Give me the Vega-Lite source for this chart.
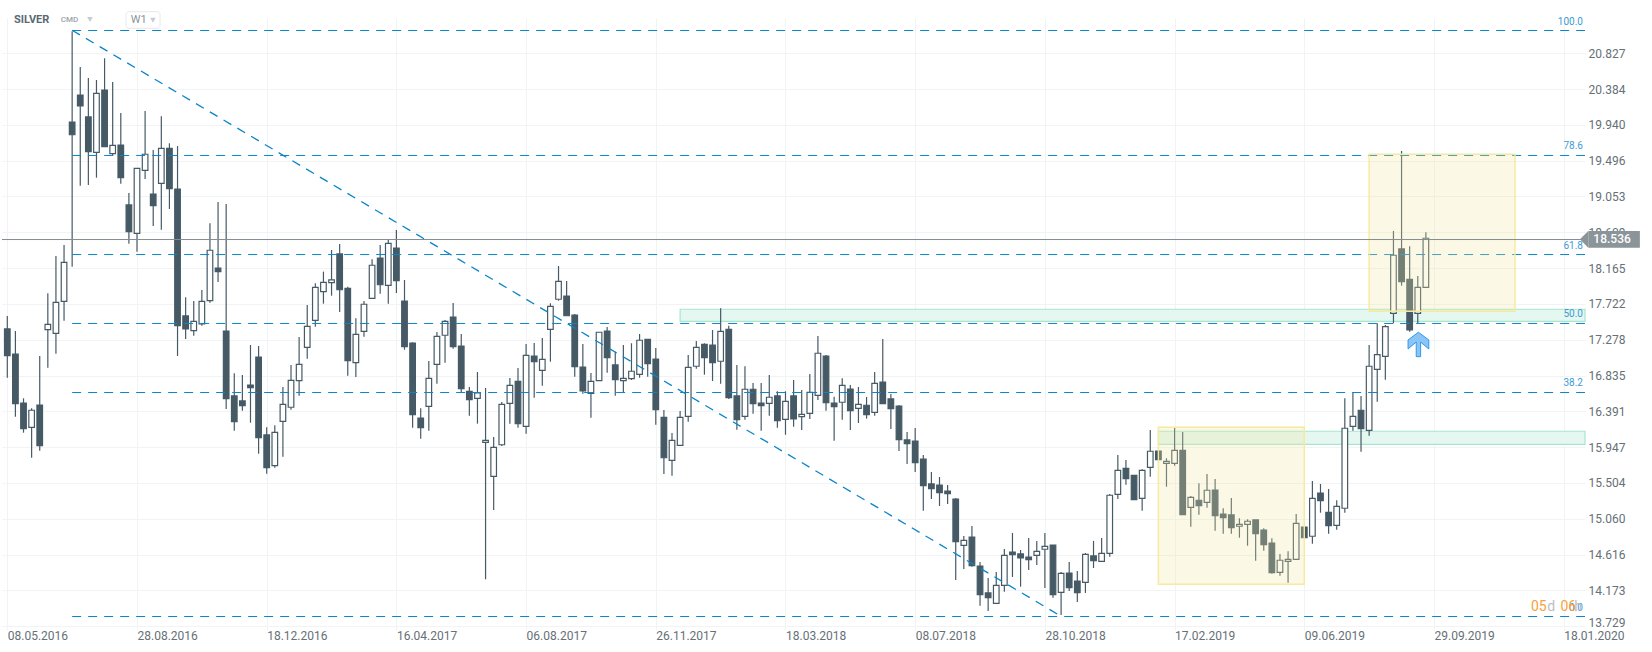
{"$schema":"https://vega.github.io/schema/vega-lite/v6.json","width":1583,"height":612,"autosize":{"type":"none"},"padding":{"left":2,"top":18,"right":67,"bottom":22},"background":"#ffffff","config":{"view":{"stroke":null},"font":"Roboto"},
"datasets":{"candles":[
{"i":0,"o":17.412,"h":17.573,"l":16.808,"c":17.081},{"i":1,"o":17.102,"h":17.387,"l":16.325,"c":16.486},{"i":2,"o":16.495,"h":16.553,"l":16.127,"c":16.177},{"i":3,"o":16.194,"h":16.429,"l":15.817,"c":16.405},{"i":4,"o":16.470,"h":17.077,"l":15.904,"c":15.966},{"i":5,"o":17.403,"h":17.854,"l":16.932,"c":17.470},{"i":6,"o":17.358,"h":18.316,"l":17.106,"c":17.742},{"i":7,"o":17.755,"h":18.452,"l":17.514,"c":18.238},{"i":8,"o":19.976,"h":21.100,"l":18.183,"c":19.818},{"i":9,"o":20.310,"h":20.657,"l":19.187,"c":20.174},
{"i":10,"o":20.038,"h":20.521,"l":19.195,"c":19.608},{"i":11,"o":19.600,"h":20.496,"l":19.286,"c":20.331},{"i":12,"o":20.372,"h":20.765,"l":19.670,"c":19.670},{"i":13,"o":19.583,"h":20.471,"l":19.558,"c":19.687},{"i":14,"o":19.691,"h":20.087,"l":19.211,"c":19.286},{"i":15,"o":18.948,"h":19.096,"l":18.468,"c":18.617},{"i":16,"o":18.597,"h":19.402,"l":18.369,"c":19.402},{"i":17,"o":19.377,"h":20.112,"l":19.270,"c":19.576},{"i":18,"o":19.084,"h":19.629,"l":18.688,"c":18.939},{"i":19,"o":19.216,"h":20.046,"l":18.642,"c":19.650},
{"i":20,"o":19.650,"h":19.712,"l":18.898,"c":19.150},{"i":21,"o":19.146,"h":19.678,"l":17.077,"c":17.453},{"i":22,"o":17.573,"h":17.804,"l":17.288,"c":17.412},{"i":23,"o":17.391,"h":17.758,"l":17.329,"c":17.507},{"i":24,"o":17.474,"h":17.895,"l":17.453,"c":17.755},{"i":25,"o":17.762,"h":18.721,"l":17.737,"c":18.387},{"i":26,"o":18.167,"h":18.985,"l":17.994,"c":18.122},{"i":27,"o":17.387,"h":18.960,"l":16.421,"c":16.548},{"i":28,"o":16.582,"h":16.863,"l":16.152,"c":16.263},{"i":29,"o":16.520,"h":16.842,"l":16.400,"c":16.462},
{"i":30,"o":16.718,"h":17.213,"l":16.251,"c":16.685},{"i":31,"o":17.065,"h":17.201,"l":15.867,"c":16.065},{"i":32,"o":16.099,"h":16.194,"l":15.619,"c":15.694},{"i":33,"o":15.718,"h":16.219,"l":15.694,"c":16.132},{"i":34,"o":16.268,"h":16.693,"l":15.830,"c":16.479},{"i":35,"o":16.442,"h":16.966,"l":16.412,"c":16.776},{"i":36,"o":16.771,"h":17.313,"l":16.585,"c":16.974},{"i":37,"o":17.185,"h":17.709,"l":17.044,"c":17.445},{"i":38,"o":17.519,"h":17.978,"l":17.440,"c":17.928},{"i":39,"o":17.874,"h":18.122,"l":17.725,"c":17.990},
{"i":40,"o":17.985,"h":18.390,"l":17.824,"c":18.019},{"i":41,"o":18.341,"h":18.465,"l":17.622,"c":17.898},{"i":42,"o":17.916,"h":17.936,"l":16.833,"c":17.019},{"i":43,"o":16.994,"h":17.544,"l":16.817,"c":17.346},{"i":44,"o":17.383,"h":17.758,"l":17.316,"c":17.718},{"i":45,"o":17.792,"h":18.275,"l":17.792,"c":18.201},{"i":46,"o":18.291,"h":18.452,"l":17.849,"c":17.960},{"i":47,"o":17.953,"h":18.514,"l":17.725,"c":18.473},{"i":48,"o":18.415,"h":18.638,"l":17.858,"c":18.010},{"i":49,"o":17.758,"h":18.019,"l":17.155,"c":17.192},
{"i":50,"o":17.238,"h":17.247,"l":16.189,"c":16.350},{"i":51,"o":16.309,"h":16.429,"l":16.053,"c":16.189},{"i":52,"o":16.454,"h":17.015,"l":16.152,"c":16.801},{"i":53,"o":16.974,"h":17.375,"l":16.734,"c":17.321},{"i":54,"o":17.334,"h":17.523,"l":16.994,"c":17.507},{"i":55,"o":17.560,"h":17.734,"l":17.168,"c":17.192},{"i":56,"o":17.201,"h":17.350,"l":16.631,"c":16.672},{"i":57,"o":16.640,"h":16.693,"l":16.338,"c":16.536},{"i":58,"o":16.553,"h":16.879,"l":16.239,"c":16.619},{"i":59,"o":16.008,"h":16.681,"l":14.311,"c":16.033},
{"i":60,"o":15.587,"h":16.074,"l":15.170,"c":15.946},{"i":61,"o":15.978,"h":16.507,"l":15.962,"c":16.479},{"i":62,"o":16.491,"h":16.805,"l":16.239,"c":16.714},{"i":63,"o":16.764,"h":16.929,"l":16.189,"c":16.239},{"i":64,"o":16.206,"h":17.226,"l":16.115,"c":17.086},{"i":65,"o":17.077,"h":17.238,"l":16.561,"c":17.007},{"i":66,"o":16.900,"h":17.300,"l":16.709,"c":17.036},{"i":67,"o":17.408,"h":17.730,"l":17.007,"c":17.693},{"i":68,"o":17.780,"h":18.192,"l":17.762,"c":18.002},{"i":69,"o":17.820,"h":18.006,"l":17.576,"c":17.576},
{"i":70,"o":17.585,"h":17.597,"l":16.821,"c":16.945},{"i":71,"o":16.941,"h":17.226,"l":16.610,"c":16.644},{"i":72,"o":16.615,"h":16.867,"l":16.313,"c":16.764},{"i":73,"o":16.771,"h":17.371,"l":16.771,"c":17.371},{"i":74,"o":17.387,"h":17.436,"l":16.870,"c":17.056},{"i":75,"o":16.966,"h":17.130,"l":16.585,"c":16.784},{"i":76,"o":16.771,"h":17.213,"l":16.627,"c":16.801},{"i":77,"o":16.796,"h":17.235,"l":16.780,"c":16.888},{"i":78,"o":16.850,"h":17.350,"l":16.808,"c":17.272},{"i":79,"o":17.284,"h":17.284,"l":16.821,"c":16.982},
{"i":80,"o":17.040,"h":17.176,"l":16.226,"c":16.412},{"i":81,"o":16.318,"h":16.408,"l":15.616,"c":15.817},{"i":82,"o":15.785,"h":16.123,"l":15.594,"c":16.033},{"i":83,"o":15.971,"h":16.396,"l":15.971,"c":16.318},{"i":84,"o":16.330,"h":17.090,"l":16.263,"c":16.937},{"i":85,"o":16.950,"h":17.263,"l":16.920,"c":17.185},{"i":86,"o":17.222,"h":17.235,"l":16.846,"c":17.056},{"i":87,"o":17.213,"h":17.399,"l":16.767,"c":16.994},{"i":88,"o":17.012,"h":17.668,"l":16.734,"c":17.383},{"i":89,"o":17.408,"h":17.453,"l":16.545,"c":16.561},
{"i":90,"o":16.582,"h":16.966,"l":16.164,"c":16.288},{"i":91,"o":16.330,"h":16.950,"l":16.288,"c":16.665},{"i":92,"o":16.665,"h":16.743,"l":16.363,"c":16.486},{"i":93,"o":16.495,"h":16.743,"l":16.152,"c":16.462},{"i":94,"o":16.491,"h":16.842,"l":16.338,"c":16.566},{"i":95,"o":16.582,"h":16.640,"l":16.189,"c":16.276},{"i":96,"o":16.293,"h":16.640,"l":16.102,"c":16.516},{"i":97,"o":16.582,"h":16.780,"l":16.201,"c":16.297},{"i":98,"o":16.325,"h":16.656,"l":16.161,"c":16.355},{"i":99,"o":16.367,"h":16.854,"l":16.297,"c":16.627},
{"i":100,"o":16.590,"h":17.325,"l":16.532,"c":17.111},{"i":101,"o":17.077,"h":17.090,"l":16.400,"c":16.499},{"i":102,"o":16.495,"h":16.573,"l":16.028,"c":16.449},{"i":103,"o":16.504,"h":16.801,"l":16.288,"c":16.714},{"i":104,"o":16.668,"h":16.718,"l":16.161,"c":16.400},{"i":105,"o":16.429,"h":16.693,"l":16.247,"c":16.479},{"i":106,"o":16.467,"h":16.569,"l":16.301,"c":16.350},{"i":107,"o":16.380,"h":16.879,"l":16.338,"c":16.739},{"i":108,"o":16.755,"h":17.288,"l":16.486,"c":16.486},{"i":109,"o":16.545,"h":16.607,"l":16.173,"c":16.424},
{"i":110,"o":16.458,"h":16.470,"l":15.900,"c":16.040},{"i":111,"o":16.037,"h":16.136,"l":15.739,"c":15.991},{"i":112,"o":16.024,"h":16.185,"l":15.640,"c":15.756},{"i":113,"o":15.801,"h":15.851,"l":15.161,"c":15.471},{"i":114,"o":15.492,"h":15.640,"l":15.306,"c":15.434},{"i":115,"o":15.479,"h":15.578,"l":15.219,"c":15.384},{"i":116,"o":15.405,"h":15.479,"l":15.244,"c":15.372},{"i":117,"o":15.306,"h":15.318,"l":14.303,"c":14.777},{"i":118,"o":14.732,"h":14.848,"l":14.439,"c":14.794},{"i":119,"o":14.835,"h":14.971,"l":14.467,"c":14.480},
{"i":120,"o":14.476,"h":14.525,"l":13.984,"c":14.121},{"i":121,"o":14.142,"h":14.327,"l":13.919,"c":14.083},{"i":122,"o":14.014,"h":14.402,"l":14.014,"c":14.237},{"i":123,"o":14.237,"h":14.687,"l":14.158,"c":14.608},{"i":124,"o":14.649,"h":14.885,"l":14.340,"c":14.616},{"i":125,"o":14.625,"h":14.674,"l":14.220,"c":14.575},{"i":126,"o":14.587,"h":14.823,"l":14.426,"c":14.554},{"i":127,"o":14.608,"h":14.786,"l":14.488,"c":14.658},{"i":128,"o":14.683,"h":14.885,"l":14.203,"c":14.720},{"i":129,"o":14.736,"h":14.736,"l":14.083,"c":14.121},
{"i":130,"o":14.150,"h":14.402,"l":13.869,"c":14.385},{"i":131,"o":14.389,"h":14.525,"l":14.166,"c":14.207},{"i":132,"o":14.290,"h":14.414,"l":14.030,"c":14.145},{"i":133,"o":14.274,"h":14.637,"l":14.142,"c":14.621},{"i":134,"o":14.600,"h":14.786,"l":14.451,"c":14.542},{"i":135,"o":14.534,"h":14.823,"l":14.534,"c":14.633},{"i":136,"o":14.633,"h":15.368,"l":14.591,"c":15.352},{"i":137,"o":15.364,"h":15.851,"l":15.306,"c":15.661},{"i":138,"o":15.686,"h":15.789,"l":15.483,"c":15.557},{"i":139,"o":15.599,"h":15.603,"l":15.297,"c":15.297},
{"i":140,"o":15.314,"h":15.674,"l":15.161,"c":15.661},{"i":141,"o":15.698,"h":16.161,"l":15.582,"c":15.897},{"i":142,"o":15.900,"h":15.900,"l":15.793,"c":15.793},{"i":143,"o":15.748,"h":15.810,"l":15.458,"c":15.773},{"i":144,"o":15.748,"h":16.185,"l":15.718,"c":15.909},{"i":145,"o":15.909,"h":16.136,"l":15.111,"c":15.111},{"i":146,"o":15.203,"h":15.343,"l":14.963,"c":15.327},{"i":147,"o":15.290,"h":15.500,"l":15.111,"c":15.223},{"i":148,"o":15.265,"h":15.615,"l":15.198,"c":15.414},{"i":149,"o":15.417,"h":15.554,"l":14.913,"c":15.099},
{"i":150,"o":15.120,"h":15.191,"l":14.876,"c":15.074},{"i":151,"o":15.108,"h":15.318,"l":14.876,"c":14.950},{"i":152,"o":14.968,"h":15.067,"l":14.826,"c":14.992},{"i":153,"o":14.992,"h":15.054,"l":14.727,"c":15.030},{"i":154,"o":15.046,"h":15.046,"l":14.542,"c":14.876},{"i":155,"o":14.922,"h":14.943,"l":14.665,"c":14.740},{"i":156,"o":14.761,"h":14.819,"l":14.381,"c":14.393},{"i":157,"o":14.398,"h":14.625,"l":14.356,"c":14.547},{"i":158,"o":14.534,"h":14.658,"l":14.269,"c":14.559},{"i":159,"o":14.559,"h":15.120,"l":14.559,"c":15.005},
{"i":160,"o":14.959,"h":14.959,"l":14.826,"c":14.826},{"i":161,"o":14.844,"h":15.529,"l":14.752,"c":15.314},{"i":162,"o":15.380,"h":15.492,"l":15.136,"c":15.285},{"i":163,"o":15.141,"h":15.430,"l":14.876,"c":14.975},{"i":164,"o":14.980,"h":15.290,"l":14.926,"c":15.215},{"i":165,"o":15.191,"h":16.553,"l":15.136,"c":16.182},{"i":166,"o":16.206,"h":16.625,"l":16.152,"c":16.330},{"i":167,"o":16.405,"h":16.582,"l":15.892,"c":16.177},{"i":168,"o":16.157,"h":17.213,"l":16.090,"c":16.950},{"i":169,"o":16.912,"h":17.482,"l":16.511,"c":17.093},
{"i":170,"o":17.073,"h":17.461,"l":16.784,"c":17.440},{"i":171,"o":17.606,"h":18.626,"l":17.482,"c":18.325},{"i":172,"o":18.403,"h":19.617,"l":17.948,"c":17.998},{"i":173,"o":18.027,"h":18.436,"l":17.378,"c":17.399},{"i":174,"o":17.606,"h":18.068,"l":17.482,"c":17.928},{"i":175,"o":17.928,"h":18.609,"l":17.928,"c":18.536}
],
"fib":[{"level":21.109,"label":"100.0"},{"level":19.561,"label":"78.6"},{"level":18.334,"label":"61.8"},{"level":17.480,"label":"50.0"},{"level":16.625,"label":"38.2"},{"level":13.850,"label":"0.0"}]},
"layer":[
{"data":{"values":[{"a":83,"b":194.63,"top":17.656,"bottom":17.505},{"a":142,"b":194.63,"top":16.145,"bottom":15.983}]},"mark":{"type":"rect","fill":"#e4f7f0","stroke":"#a8e5cf","strokeWidth":1.2},
"encoding":{"x":{"field":"a","type":"quantitative","title":null,"scale":{"domain":[-0.654,194.63],"nice":false,"zero":false,"padding":0},"axis":{"values":[0,16,32,48,64,80,96,112,128,144,160,176,192],"tickCount":20,"labelExpr":"['08.05.2016','28.08.2016','18.12.2016','16.04.2017','06.08.2017','26.11.2017','18.03.2018','08.07.2018','28.10.2018','17.02.2019','09.06.2019','29.09.2019','18.01.2020'][datum.value/16]","grid":true,"gridColor":"#f2f3f5","gridWidth":1,"domain":false,"ticks":false,"labelFont":"Roboto","labelFontSize":12,"labelColor":"#667076","labelAlign":"left","labelBaseline":"middle","labelPadding":5,"labelOverlap":false,"labelBound":false,"labelFlush":false}},"x2":{"field":"b"},
"y":{"field":"top","type":"quantitative","title":null,"scale":{"domain":[13.683,21.264],"nice":false,"zero":false},"axis":{"orient":"right","values":[13.729,14.173,14.616,15.06,15.504,15.947,16.391,16.835,17.278,17.722,18.165,18.609,19.053,19.496,19.94,20.384,20.827],"tickCount":20,"format":".3f","grid":true,"gridColor":"#f2f3f5","gridWidth":1,"domain":false,"ticks":false,"labelFont":"Roboto","labelFontSize":12,"labelColor":"#667076","labelAlign":"left","labelBaseline":{"condition":{"test":"datum.value < 13.8","value":"alphabetic"},"value":"middle"},"labelPadding":3,"labelOverlap":false,"labelBound":false,"labelFlush":false}},"y2":{"field":"bottom"}}},
{"data":{"name":"candles"},"mark":{"type":"rule","color":"#465a66","strokeWidth":1.2},"encoding":{"x":{"field":"i","type":"quantitative"},"y":{"field":"h","type":"quantitative"},"y2":{"field":"l"}}},
{"data":{"name":"candles"},"mark":{"type":"bar","size":5.6,"stroke":"#465a66","strokeWidth":1.2,"cornerRadius":0},"encoding":{"x":{"field":"i","type":"quantitative"},"y":{"field":"o","type":"quantitative"},"y2":{"field":"c"},"fill":{"condition":{"test":"datum.c > datum.o","value":"#ffffff"},"value":"#465a66"}}},
{"data":{"name":"fib"},"mark":{"type":"rule","color":"#0a85c9","strokeWidth":1,"strokeDash":[9,7]},"encoding":{"y":{"field":"level","type":"quantitative"},"x":{"datum":8,"type":"quantitative"},"x2":{"datum":194.63}}},
{"data":{"values":[{"i":8,"p":21.112},{"i":130,"p":13.853}]},"mark":{"type":"line","color":"#0a85c9","strokeWidth":1.3,"strokeDash":[9,7]},"encoding":{"x":{"field":"i","type":"quantitative"},"y":{"field":"p","type":"quantitative"}}},
{"data":{"name":"fib"},"mark":{"type":"text","font":"Roboto","fontSize":10,"color":"#3d9bd4","align":"right","baseline":"middle","dy":-9},"encoding":{"x":{"datum":194.38,"type":"quantitative"},"y":{"field":"level","type":"quantitative"},"text":{"field":"label"}}},
{"data":{"values":[{"a":142,"b":160,"top":16.194,"bottom":14.249},{"a":168,"b":186,"top":19.576,"bottom":17.631}]},"mark":{"type":"rect","fill":"#f0e6a1","fillOpacity":0.276,"stroke":"#f6ea9c","strokeWidth":1.4},"encoding":{"x":{"field":"a","type":"quantitative"},"x2":{"field":"b"},"y":{"field":"top","type":"quantitative"},"y2":{"field":"bottom"}}},
{"data":{"values":[{"i":174.08,"p":17.22}]},"mark":{"type":"point","filled":true,"shape":"M0,-1 L0.85,-0.37 L0.85,0.37 L0.18,-0.2 L0.18,1 L-0.18,1 L-0.18,-0.2 L-0.85,0.37 L-0.85,-0.37 Z","size":595,"fill":"#8cc4f5","fillOpacity":1,"stroke":"#2a9af0","strokeWidth":1,"opacity":1},"encoding":{"x":{"field":"i","type":"quantitative"},"y":{"field":"p","type":"quantitative"}}},
{"data":{"values":[{"p":18.52}]},"mark":{"type":"rule","color":"#858d90","strokeWidth":1},"encoding":{"y":{"field":"p","type":"quantitative"},"x":{"datum":-0.654,"type":"quantitative"},"x2":{"datum":194.63}}},
{"data":{"values":[{"a":195.04,"b":201.4,"top":18.626,"bottom":18.419}]},"mark":{"type":"rect","fill":"#8a9499"},"encoding":{"x":{"field":"a","type":"quantitative"},"x2":{"field":"b"},"y":{"field":"top","type":"quantitative"},"y2":{"field":"bottom"}}},
{"data":{"values":[{"i":194.52,"p":18.523}]},"mark":{"type":"point","filled":true,"shape":"M0.5,-1 L0.5,1 L-0.5,0 Z","size":279,"fill":"#8a9499","fillOpacity":1,"strokeWidth":0,"opacity":1},"encoding":{"x":{"field":"i","type":"quantitative"},"y":{"field":"p","type":"quantitative"}}},
{"data":{"values":[{"i":195.66,"p":18.523,"t":"18.536"}]},"mark":{"type":"text","font":"Roboto","fontSize":12,"fontWeight":500,"color":"#ffffff","align":"left","baseline":"middle"},"encoding":{"x":{"field":"i","type":"quantitative"},"y":{"field":"p","type":"quantitative"},"text":{"field":"t"}}},
{"data":{"values":[{"i":0.83,"p":21.239,"t":"SILVER"}]},"mark":{"type":"text","font":"Roboto","fontSize":11,"fontWeight":"bold","color":"#5a6a74","align":"left","baseline":"middle"},"encoding":{"x":{"field":"i","type":"quantitative"},"y":{"field":"p","type":"quantitative"},"text":{"field":"t"}}},
{"data":{"values":[{"i":6.59,"p":21.239,"t":"CMD"}]},"mark":{"type":"text","font":"Roboto","fontSize":8,"fontWeight":500,"color":"#9aa5ab","align":"left","baseline":"middle"},"encoding":{"x":{"field":"i","type":"quantitative"},"y":{"field":"p","type":"quantitative"},"text":{"field":"t"}}},
{"data":{"values":[{"a":14.64,"b":18.84,"top":21.342,"bottom":21.136}]},"mark":{"type":"rect","fill":"#ffffff","stroke":"#e6e8ea","strokeWidth":1,"cornerRadius":3},"encoding":{"x":{"field":"a","type":"quantitative"},"x2":{"field":"b"},"y":{"field":"top","type":"quantitative"},"y2":{"field":"bottom"}}},
{"data":{"values":[{"i":15.22,"p":21.236,"t":"W1"}]},"mark":{"type":"text","font":"Roboto","fontSize":11,"color":"#8b949a","align":"left","baseline":"middle"},"encoding":{"x":{"field":"i","type":"quantitative"},"y":{"field":"p","type":"quantitative"},"text":{"field":"t"}}},
{"data":{"values":[{"i":10.2,"p":21.245},{"i":17.97,"p":21.236}]},"mark":{"type":"point","filled":true,"shape":"triangle-down","size":32,"fill":"#c8cccf","fillOpacity":1,"strokeWidth":0,"opacity":1},"encoding":{"x":{"field":"i","type":"quantitative"},"y":{"field":"p","type":"quantitative"}}},
{"data":{"values":[{"i":187.96,"p":13.97,"t":"05"},{"i":191.6,"p":13.97,"t":"06"}]},"mark":{"type":"text","font":"Roboto","fontSize":14,"color":"#f7a13c","align":"left","baseline":"middle"},"encoding":{"x":{"field":"i","type":"quantitative"},"y":{"field":"p","type":"quantitative"},"text":{"field":"t"}}},
{"data":{"values":[{"i":189.96,"p":13.97,"t":"d"},{"i":193.3,"p":13.97,"t":"h"}]},"mark":{"type":"text","font":"Roboto","fontSize":14,"color":"#b9c0c5","align":"left","baseline":"middle"},"encoding":{"x":{"field":"i","type":"quantitative"},"y":{"field":"p","type":"quantitative"},"text":{"field":"t"}}}
]}
